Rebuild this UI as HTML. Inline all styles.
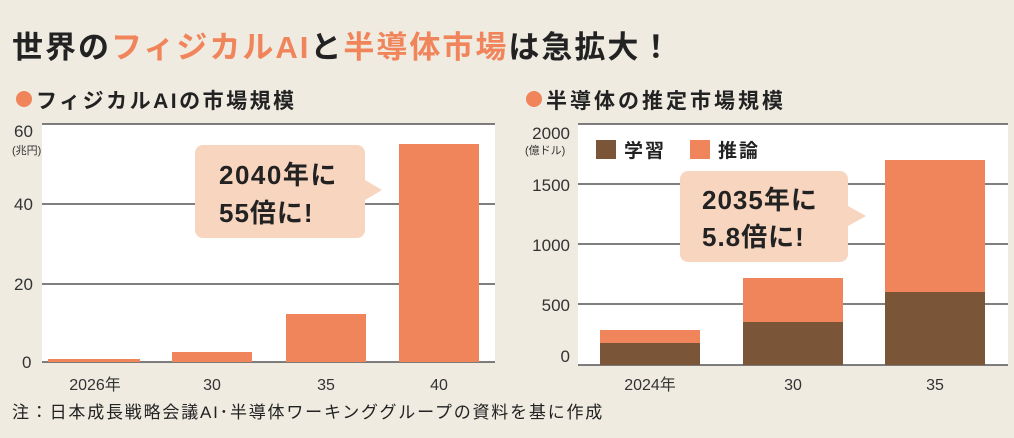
<!DOCTYPE html>
<html><head><meta charset="utf-8"><style>
body{margin:0;width:1014px;height:433px;background:#efebe1;overflow:hidden;font-family:"Liberation Sans","Noto Sans CJK JP",sans-serif;}
</style></head><body>
<svg width="1014" height="433" xmlns="http://www.w3.org/2000/svg" style="font-family:'Liberation Sans','Noto Sans CJK JP',sans-serif">
<rect width="1014" height="433" fill="#efebe1"/>
<text x="12" y="58" font-size="31" font-weight="bold" fill="#222" letter-spacing="2">世界の<tspan fill="#f0845a">フィジカルAI</tspan>と<tspan fill="#f0845a">半導体市場</tspan>は急拡大！</text>
<circle cx="24" cy="99" r="8" fill="#f0845a"/>
<text x="36" y="108" font-size="21" font-weight="bold" fill="#222" letter-spacing="2.5">フィジカルAIの市場規模</text>
<circle cx="534" cy="99" r="8" fill="#f0845a"/>
<text x="546" y="108" font-size="21" font-weight="bold" fill="#222" letter-spacing="3">半導体の推定市場規模</text>
<!-- left plot -->
<rect x="42" y="124" width="453" height="238" fill="#fff"/>
<g stroke="#555" stroke-width="1.5">
<line x1="42" y1="124" x2="495" y2="124"/><line x1="42" y1="204" x2="495" y2="204"/><line x1="42" y1="284" x2="495" y2="284"/><line x1="42" y1="362" x2="495" y2="362"/>
</g>
<g font-size="17" fill="#333" text-anchor="start">
<text x="14" y="137">60</text><text x="14" y="210">40</text><text x="14" y="290">20</text><text x="22" y="368">0</text>
</g>
<text x="12" y="154" font-size="11" fill="#333">(兆円)</text>
<g fill="#f0845a">
<rect x="48" y="359" width="92" height="3"/>
<rect x="172" y="352" width="80" height="10"/>
<rect x="286" y="314" width="80" height="48"/>
<rect x="399" y="144" width="80" height="218"/>
</g>
<path d="M203 145 H357 a8 8 0 0 1 8 8 V180 L382 190 L365 200 V230 a8 8 0 0 1 -8 8 H203 a8 8 0 0 1 -8 -8 V153 a8 8 0 0 1 8 -8Z" fill="#f8d5bf"/>
<text x="219" y="184" font-size="26" font-weight="bold" fill="#222" letter-spacing="1.5">2040年に</text>
<text x="219" y="222" font-size="26" font-weight="bold" fill="#222" letter-spacing="1">55倍に!</text>
<g font-size="16" fill="#333" text-anchor="middle">
<text x="95" y="390">2026年</text><text x="212" y="390">30</text><text x="326" y="390">35</text><text x="439" y="390">40</text>
</g>
<!-- right plot -->
<rect x="578" y="124" width="430" height="241" fill="#fff"/>
<g stroke="#555" stroke-width="1.5">
<line x1="578" y1="124" x2="1008" y2="124"/><line x1="578" y1="184" x2="1008" y2="184"/><line x1="578" y1="244" x2="1008" y2="244"/><line x1="578" y1="304" x2="1008" y2="304"/><line x1="578" y1="365" x2="1008" y2="365"/>
</g>
<g font-size="17" fill="#333" text-anchor="end">
<text x="570" y="139">2000</text><text x="570" y="191">1500</text><text x="570" y="251">1000</text><text x="570" y="311">500</text><text x="570" y="362">0</text>
</g>
<text x="525" y="154" font-size="11" fill="#333">(億ドル)</text>
<rect x="596" y="140" width="20" height="19" fill="#7a5538"/>
<text x="624" y="157" font-size="19" font-weight="bold" fill="#222" letter-spacing="2">学習</text>
<rect x="690" y="140" width="20" height="19" fill="#f0845a"/>
<text x="718" y="157" font-size="19" font-weight="bold" fill="#222" letter-spacing="2">推論</text>
<rect x="600" y="330" width="100" height="13" fill="#f0845a"/><rect x="600" y="343" width="100" height="22" fill="#7a5538"/>
<rect x="743" y="278" width="100" height="44" fill="#f0845a"/><rect x="743" y="322" width="100" height="43" fill="#7a5538"/>
<rect x="885" y="160" width="100" height="132" fill="#f0845a"/><rect x="885" y="292" width="100" height="73" fill="#7a5538"/>
<path d="M688 171 H840 a8 8 0 0 1 8 8 V206 L866 216 L848 226 V254 a8 8 0 0 1 -8 8 H688 a8 8 0 0 1 -8 -8 V179 a8 8 0 0 1 8 -8Z" fill="#f8d5bf"/>
<text x="702" y="209" font-size="26" font-weight="bold" fill="#222" letter-spacing="1">2035年に</text>
<text x="702" y="246" font-size="26" font-weight="bold" fill="#222" letter-spacing="1">5.8倍に!</text>
<g font-size="16" fill="#333" text-anchor="middle">
<text x="650" y="390">2024年</text><text x="793" y="390">30</text><text x="935" y="390">35</text>
</g>
<text x="12" y="418" font-size="17" fill="#222" letter-spacing="1.8">注：日本成長戦略会議AI･半導体ワーキンググループの資料を基に作成</text>
</svg>
</body></html>
